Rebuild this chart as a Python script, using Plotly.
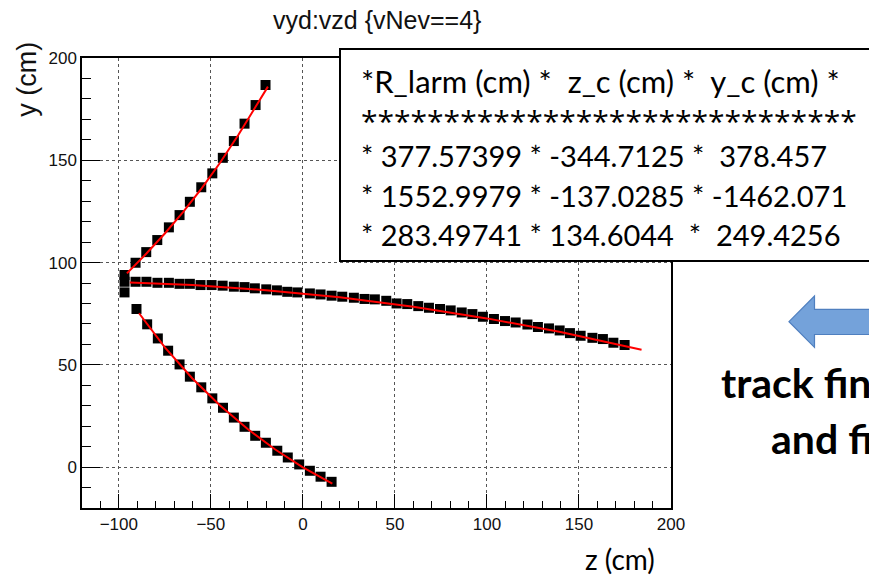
import plotly.graph_objects as go

# ---------------- data ----------------
track1_z = [-96.9, -90.9, -85.1, -79.1, -72.8, -67.0, -61.4, -55.2, -49.2, -43.5,
            -37.5, -31.7, -25.7, -20.3]
track1_y = [93.9, 99.9, 105.1, 111.0, 117.2, 123.2, 129.7, 136.8, 143.6, 151.2,
            159.4, 167.9, 177.0, 186.8]

track2_z = [-96.9, -90.9, -85.0, -79.0, -72.8, -67.0, -61.4, -55.6, -49.6, -43.6,
            -37.5, -31.7, -26.1, -19.9, -14.1, -8.5, -3.0, 3.8, 9.6, 15.6,
            21.4, 27.7, 33.5, 39.1, 45.3, 50.9, 56.7, 62.7, 68.5, 74.5,
            80.3, 86.3, 92.1, 97.8, 103.8, 109.8, 115.6, 122.0, 127.7, 133.7,
            139.5, 145.1, 150.9, 157.3, 163.0, 168.7, 174.8]
track2_y = [90.6, 90.6, 90.6, 90.1, 90.1, 89.6, 89.6, 89.0, 89.0, 88.7,
            88.2, 88.0, 87.4, 86.9, 86.4, 85.7, 85.4, 84.9, 84.4, 83.8,
            83.3, 82.8, 82.2, 82.0, 81.3, 80.0, 79.7, 78.7, 77.9, 77.3,
            76.6, 75.6, 74.8, 73.5, 72.4, 71.4, 70.7, 69.7, 68.5, 67.8,
            66.8, 65.5, 64.2, 63.2, 62.6, 60.8, 59.7]

track3_z = [-96.9, -90.4, -84.6, -78.8, -73.2, -67.0, -61.4, -55.2, -49.2, -43.4,
            -37.5, -31.7, -25.9, -20.1, -13.9, -8.2, -2.0, 3.8, 9.6, 15.6]
track3_y = [85.4, 77.3, 69.8, 62.9, 56.9, 50.2, 44.2, 39.0, 33.6, 29.0,
            24.2, 19.7, 15.3, 11.9, 8.0, 4.7, 1.3, -1.8, -4.7, -7.2]

fit1_z = [-95.6, -85, -75, -65, -55, -45, -35, -25, -19]
fit1_y = [94.7, 104.4, 114.2, 124.8, 136.3, 148.8, 162.5, 177.6, 186.0]
fit2_z = [-94, -60, -20, 20, 60, 100, 140, 184]
fit2_y = [90.3, 89.0, 86.5, 83.0, 78.4, 72.7, 66.0, 57.4]
fit3_z = [-89, -75, -60, -45, -30, -15, 0, 16]
fit3_y = [75.2, 58.5, 43.3, 30.1, 18.6, 8.6, -0.1, -8.1]

x_tick_vals = [-100, -50, 0, 50, 100, 150, 200]
x_tick_text = ["\u2212100", "\u221250", "0", "50", "100", "150", "200"]
y_tick_vals = [0, 50, 100, 150, 200]
y_tick_text = ["0", "50", "100", "150", "200"]

table_lines = [
    "*R_larm (cm) *\u00a0 z_c (cm) *\u00a0 y_c (cm) *",
    "*" * 30,
    "* 377.57399 * -344.7125 *\u00a0 378.457",
    "* 1552.9979 * -137.0285 * -1462.071",
    "* 283.49741 * 134.6044\u00a0 *\u00a0 249.4256",
]
title_text = "vyd:vzd {vNev==4}"
side_lines = ["track finding", "and fitting"]

# ---------------- layout helpers (pixel -> paper) ----------------
W, H = 869, 575
L, R, T, B = 82, 671, 58, 508


def px(x):
    return (x - L) / (R - L)


def py(y):
    return (B - y) / (B - T)


fig = go.Figure()
for zz, yy in [(track1_z, track1_y), (track2_z, track2_y), (track3_z, track3_y)]:
    fig.add_trace(go.Scatter(x=zz, y=yy, mode="markers",
                             marker=dict(symbol="square", size=10, color="black"),
                             hoverinfo="skip", showlegend=False))
for zz, yy in [(fit1_z, fit1_y), (fit2_z, fit2_y), (fit3_z, fit3_y)]:
    fig.add_trace(go.Scatter(x=zz, y=yy, mode="lines",
                             line=dict(color="#ff0000", width=2),
                             hoverinfo="skip", showlegend=False))

axis_common = dict(
    ticks="inside", tickwidth=1, tickcolor="black",
    showline=True, linecolor="black", linewidth=1.5, mirror=True,
    showgrid=True, gridcolor="#555", griddash="dot", gridwidth=1,
    zeroline=False,
    tickfont=dict(family="Liberation Sans, Arial", size=17, color="#111"),
)

fig.update_xaxes(range=[-120, 200], tickmode="array", tickvals=x_tick_vals,
                 ticktext=x_tick_text, ticklen=14,
                 minor=dict(ticks="inside", ticklen=7, tickwidth=1, tickcolor="black",
                            dtick=10, tick0=0, showgrid=False),
                 **axis_common)
fig.update_yaxes(range=[-20, 200], tickmode="array", tickvals=y_tick_vals,
                 ticktext=y_tick_text, ticklen=18,
                 minor=dict(ticks="inside", ticklen=9, tickwidth=1, tickcolor="black",
                            dtick=10, tick0=0, showgrid=False),
                 **axis_common)

shapes = [
    # table box
    dict(type="rect", xref="paper", yref="paper",
         x0=px(340), x1=px(880), y0=py(261), y1=py(49),
         fillcolor="white", line=dict(color="black", width=2), layer="above"),
    # blue arrow
    dict(type="path", xref="paper", yref="paper",
         path=("M {:.5f},{:.5f} L {:.5f},{:.5f} L {:.5f},{:.5f} L {:.5f},{:.5f} "
               "L {:.5f},{:.5f} L {:.5f},{:.5f} L {:.5f},{:.5f} Z").format(
             px(789), py(321.7), px(814.5), py(296), px(814.5), py(309.3),
             px(880), py(309.3), px(880), py(334.5), px(814.5), py(334.5),
             px(814.5), py(347.3)),
         fillcolor="#74a2da", line=dict(color="#4f7fbf", width=1.2), layer="above"),
]

annotations = [
    dict(text=title_text, xref="paper", yref="paper", x=0.5, y=py(20),
         xanchor="center", yanchor="middle", showarrow=False,
         font=dict(family="Liberation Sans, Arial", size=25, color="#111")),
    dict(text="y (cm)", xref="paper", yref="paper", x=px(26.7), y=py(79),
         xanchor="center", yanchor="middle", textangle=-90, showarrow=False,
         font=dict(family="Liberation Sans, Arial", size=27, color="#111")),
    dict(text="z (cm)", xref="paper", yref="paper", x=px(619.5), y=py(559),
         xanchor="center", yanchor="middle", showarrow=False,
         font=dict(family="Lato", size=28, color="black")),
]
line_y = [80.7, 120, 155.8, 195.9, 234.3]
line_size = [31, 30, 29, 29, 29]
line_font = ["Lato", "Open Sans", "Lato", "Lato", "Lato"]
for txt, yy, sz, fam in zip(table_lines, line_y, line_size, line_font):
    annotations.append(dict(text=txt, xref="paper", yref="paper", x=px(359), y=py(yy),
                            xanchor="left", yanchor="middle", showarrow=False,
                            font=dict(family=fam, size=sz, color="black")))
for txt, xx, yy in zip(side_lines, [719, 769], [382, 438]):
    annotations.append(dict(text="<b>" + txt + "</b>", xref="paper", yref="paper",
                            x=px(xx), y=py(yy), xanchor="left", yanchor="middle",
                            showarrow=False,
                            font=dict(family="Lato", size=41, color="black")))

fig.update_layout(width=W, height=H,
                  margin=dict(l=L, r=W - R, t=T, b=H - B, pad=0),
                  plot_bgcolor="white", paper_bgcolor="white",
                  showlegend=False, shapes=shapes, annotations=annotations)

fig.write_html("out.html")
